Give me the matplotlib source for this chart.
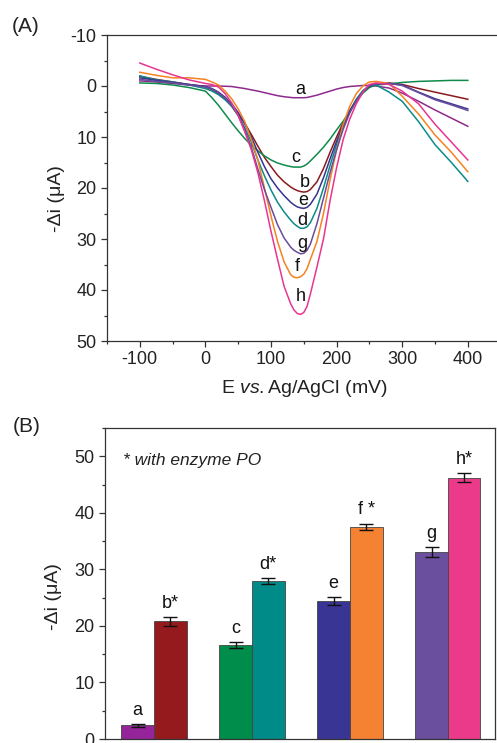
import numpy as np
import matplotlib
matplotlib.use('Agg')
import matplotlib.pyplot as plt
from matplotlib.ticker import MultipleLocator

plt.rcParams['font.family'] = ['Liberation Sans', 'DejaVu Sans']
plt.rcParams['mathtext.fontset'] = 'custom'
plt.rcParams['mathtext.rm'] = 'Liberation Sans'
plt.rcParams['mathtext.it'] = 'Liberation Sans:italic'
plt.rcParams['axes.unicode_minus'] = False

# ---- panel A: DPV curves ----
E = [-100, -75, -50, -25, 0, 10, 20, 30, 40, 50, 60, 70, 80, 90, 100, 110, 120, 130, 135, 140,
     145, 150, 155, 160, 170, 180, 190, 200, 210, 220, 230, 240, 250, 260, 280, 300, 325, 350, 375, 400]

curve_a = [-1.0, -0.8, -0.5, -0.2, 0.0, 0.0, 0.0, 0.05, 0.1, 0.3, 0.5, 0.75, 1.0, 1.3, 1.6, 1.9, 2.1, 2.25, 2.3, 2.3,
           2.3, 2.3, 2.25, 2.1, 1.8, 1.4, 1.0, 0.6, 0.3, 0.1, 0.0, -0.1, -0.1, 0.0, 0.4, 1.4, 3.0, 4.7, 6.3, 7.9]
curve_b = [-1.9, -1.3, -0.8, -0.3, 0.2, 0.7, 1.5, 2.5, 3.8, 5.5, 7.3, 9.5, 11.8, 14.0, 15.8, 17.5, 18.8, 19.8, 20.2, 20.5,
           20.7, 20.8, 20.7, 20.3, 18.8, 16.2, 13.0, 10.0, 7.2, 4.8, 2.8, 1.2, 0.1, -0.3, -0.6, -0.3, 0.5, 1.2, 1.9, 2.6]
curve_c = [-0.6, -0.5, -0.2, 0.3, 1.0, 2.3, 3.8, 5.5, 7.2, 8.8, 10.3, 11.6, 12.7, 13.7, 14.5, 15.1, 15.5, 15.8, 15.9, 15.9,
           15.9, 15.7, 15.3, 14.7, 13.4, 12.0, 10.4, 8.6, 6.9, 5.0, 3.0, 1.4, 0.3, -0.2, -0.4, -0.7, -0.9, -1.0, -1.1, -1.1]
curve_d = [-2.0, -1.2, -0.8, -0.2, 0.5, 1.0, 1.7, 2.7, 4.0, 5.8, 8.2, 11.0, 14.5, 17.6, 20.4, 22.8, 24.7, 26.3, 27.0, 27.5,
           27.9, 27.9, 27.6, 26.8, 24.0, 20.0, 15.6, 11.5, 8.0, 5.0, 2.6, 0.9, -0.1, -0.2, 1.2, 3.0, 7.0, 11.5, 15.0, 18.7]
curve_e = [-1.6, -1.1, -0.7, -0.3, 0.1, 0.5, 1.2, 2.2, 3.5, 5.2, 7.4, 10.0, 13.0, 15.8, 18.2, 20.0, 21.5, 22.8, 23.3, 23.7,
           23.9, 24.0, 23.8, 23.2, 21.2, 18.0, 14.3, 10.8, 7.7, 5.0, 2.8, 1.1, 0.0, -0.4, -0.5, -0.2, 1.2, 2.5, 3.5, 4.5]
curve_f = [-2.7, -2.1, -1.6, -1.6, -1.3, -0.8, -0.2, 1.0, 2.5, 4.5, 7.0, 10.5, 14.5, 20.0, 25.5, 30.5, 34.5, 37.0, 37.5, 37.6,
           37.4, 36.9, 35.8, 34.0, 30.5, 25.0, 18.4, 12.5, 7.5, 4.0, 1.5, 0.0, -0.8, -0.9, -0.5, 2.0, 5.5, 9.6, 13.0, 16.8]
curve_g = [-1.3, -0.9, -0.6, -0.2, 0.2, 0.6, 1.3, 2.4, 3.8, 5.8, 8.5, 12.0, 16.3, 20.3, 23.8, 27.2, 29.8, 31.6, 32.2, 32.6,
           32.9, 32.8, 32.2, 31.0, 27.0, 22.0, 17.0, 12.5, 8.5, 5.3, 2.9, 1.1, -0.1, -0.4, -0.5, -0.1, 1.3, 2.7, 3.7, 4.8]
curve_h = [-4.5, -3.3, -2.2, -1.2, -0.5, -0.3, 0.2, 1.5, 3.3, 5.8, 9.0, 12.5, 17.0, 22.5, 28.5, 34.0, 39.3, 42.7, 43.9, 44.6,
           44.8, 44.4, 43.2, 40.8, 35.5, 30.0, 22.5, 16.0, 10.5, 6.5, 3.5, 1.2, -0.3, -0.6, -0.3, 1.0, 3.5, 7.5, 11.0, 14.5]

line_colors = ['#8e2a8e', '#8b1a1e', '#0f8a4a', '#0b8b88', '#35358f', '#f58220', '#6a4c9c', '#e9358f']
curve_names = ['a', 'b', 'c', 'd', 'e', 'f', 'g', 'h']
curves = [curve_a, curve_b, curve_c, curve_d, curve_e, curve_f, curve_g, curve_h]
label_E = [145, 151, 137, 147.5, 149, 140.7, 147.5, 145]
label_v = [0.6, 18.9, 14.1, 26.4, 22.5, 35.4, 30.8, 41.2]

# ---- panel B: bar values ----
bar_names = ['a', 'b*', 'c', 'd*', 'e', 'f *', 'g', 'h*']
bar_values = [2.4, 20.8, 16.6, 27.9, 24.4, 37.5, 33.1, 46.2]
bar_errors = [0.3, 0.77, 0.5, 0.53, 0.77, 0.6, 0.88, 0.82]
bar_colors = ['#95239a', '#951a1d', '#008c4a', '#008b88', '#393594', '#f58233', '#6b4f9f', '#ec3a8b']

fig = plt.figure(figsize=(4.97, 7.43), dpi=100)

spine_c = '#333333'

def style_axes(ax):
    for s in ax.spines.values():
        s.set_linewidth(0.9)
        s.set_color(spine_c)
    ax.tick_params(which='both', direction='out', top=False, right=False,
                   color=spine_c, labelsize=13, labelcolor='#222222')
    ax.tick_params(which='major', length=4.5, width=0.9, pad=3)
    ax.tick_params(which='minor', length=2.5, width=0.9)

# top panel
ax1 = fig.add_axes([107 / 497, 1 - 341 / 743, 393.6 / 497, 306 / 743])
for i in range(len(curves)):
    ax1.plot(E, curves[i], color=line_colors[i], lw=1.1)
    ax1.text(label_E[i], label_v[i], curve_names[i], fontsize=13, ha='center', va='center', color='#111111')
ax1.set_xlim(-150, 450)
ax1.set_ylim(50, -10)
ax1.xaxis.set_major_locator(MultipleLocator(100))
ax1.xaxis.set_minor_locator(MultipleLocator(50))
ax1.yaxis.set_major_locator(MultipleLocator(10))
ax1.yaxis.set_minor_locator(MultipleLocator(5))
style_axes(ax1)
ax1.set_xlabel(r'E $\it{vs.}$Ag/AgCl (mV)', fontsize=14, color='#222222', labelpad=7)
ax1.set_ylabel('-\u0394i (\u03bcA)', fontsize=14, color='#222222')
ax1.yaxis.set_label_coords(-0.107, 0.467)

# bottom panel
ax2 = fig.add_axes([105 / 497, 1 - 739 / 743, 390 / 497, 311 / 743])
groups = np.arange(1, 5)
w = 0.332
xpos = []
for g in groups:
    xpos.append(g - w / 2)
    xpos.append(g + w / 2)
ax2.bar(xpos, bar_values, width=w, color=bar_colors, edgecolor='#444444', linewidth=0.6, zorder=2)
ax2.errorbar(xpos, bar_values, yerr=bar_errors, fmt='none', ecolor='#111111',
             elinewidth=1.0, capsize=4.8, capthick=1.0, zorder=3)
for i in range(len(bar_names)):
    ax2.text(xpos[i], bar_values[i] + bar_errors[i] + 2.4, bar_names[i], fontsize=13,
             ha='center', va='center', color='#111111')
ax2.text(0.68, 49.2, '* with enzyme PO', fontsize=12.5, style='italic', ha='left', va='center',
         color='#222222')
ax2.set_xlim(0.5, 4.48)
ax2.set_ylim(0, 55)
ax2.set_xticks([])
ax2.yaxis.set_major_locator(MultipleLocator(10))
ax2.yaxis.set_minor_locator(MultipleLocator(5))
style_axes(ax2)
ax2.set_ylabel('-\u0394i (\u03bcA)', fontsize=14, color='#222222')
ax2.yaxis.set_label_coords(-0.110, 0.457)

fig.text(26 / 497, 1 - 26 / 743, '(A)', fontsize=15, ha='center', va='center', color='#222222')
fig.text(27 / 497, 1 - 427 / 743, '(B)', fontsize=15, ha='center', va='center', color='#222222')

fig.savefig('out.png', dpi=100)
